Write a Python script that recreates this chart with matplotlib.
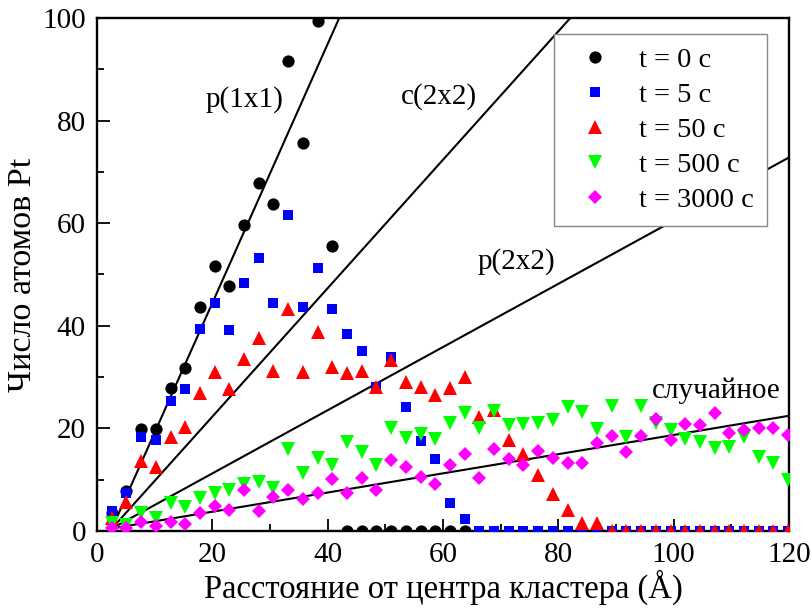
import numpy as np
import matplotlib
matplotlib.use("Agg")
import matplotlib.pyplot as plt

plt.rcParams['font.family'] = ['Liberation Serif', 'DejaVu Serif']
plt.rcParams['mathtext.fontset'] = 'stix'

# Distance from the cluster centre (Å), common grid for all series
distance = [2.55, 5.10, 7.65, 10.20, 12.75, 15.30, 17.85, 20.40, 22.95, 25.50,
            28.05, 30.60, 33.15, 35.70, 38.25, 40.80, 43.35, 45.90, 48.45, 51.00,
            53.55, 56.10, 58.65, 61.20, 63.75, 66.30, 68.85, 71.40, 73.95, 76.50,
            79.05, 81.60, 84.15, 86.70, 89.25, 91.80, 94.35, 96.90, 99.45, 102.00,
            104.55, 107.10, 109.65, 112.20, 114.75, 117.30, 119.85]

# Number of Pt atoms at each distance for several times
pt_t0 = [3.5, 7.8, 19.9, 19.9, 27.9, 31.8, 43.7, 51.7, 47.8, 59.7,
         67.9, 63.8, 91.7, 75.7, 99.5, 55.6, 0, 0, 0, 0,
         0, 0, 0, 0, 0]
pt_t5 = [3.9, 7.4, 18.3, 17.7, 25.4, 27.7, 39.3, 44.5, 39.2, 48.3,
         53.3, 44.5, 61.5, 43.7, 51.3, 43.3, 38.4, 35.1, 28.1, 34.0,
         24.1, 17.6, 14.0, 5.5, 2.3, 0, 0, 0, 0, 0,
         0, 0, 0, 0, 0, 0, 0, 0, 0, 0,
         0, 0, 0, 0, 0, 0, 0]
pt_t50 = [2.5, 5.7, 13.7, 12.5, 18.3, 20.3, 26.9, 31.0, 27.7, 33.6,
          37.7, 31.2, 43.3, 31.0, 38.8, 32.0, 30.8, 31.2, 28.1, 33.4,
          29.1, 28.1, 26.5, 27.9, 30.0, 22.2, 23.6, 17.8, 15.0, 10.9,
          7.2, 4.1, 1.6, 1.6, 0, 0, 0, 0, 0, 0,
          0, 0, 0, 0, 0, 0, 0]
pt_t500 = [1.6, 1.2, 3.5, 2.5, 5.5, 4.7, 6.4, 7.4, 8.0, 9.1,
           9.6, 8.4, 16.0, 11.3, 14.2, 12.9, 17.4, 15.4, 12.9, 20.1,
           18.1, 18.9, 17.9, 21.1, 23.0, 20.1, 23.3, 20.6, 20.8, 21.0,
           21.6, 24.2, 23.1, 19.9, 24.3, 18.3, 24.4, 21.0, 19.7, 18.0,
           17.3, 16.2, 16.4, 18.3, 14.4, 13.3, 10.0]
pt_t3000 = [0.6, 0.5, 1.8, 1.0, 1.8, 1.4, 3.6, 4.9, 4.1, 7.9,
            3.8, 6.6, 8.0, 6.3, 7.4, 10.1, 7.4, 10.3, 8.0, 13.8,
            12.5, 10.5, 9.2, 12.9, 15.0, 10.3, 15.9, 14.1, 12.8, 15.6,
            14.2, 13.3, 13.3, 17.2, 18.5, 15.4, 18.5, 21.8, 17.8, 20.9,
            20.7, 23.0, 19.1, 19.7, 20.1, 20.1, 18.7]

series_labels = ['t = 0 с', 't = 5 с', 't = 50 с', 't = 500 с', 't = 3000 с']

# Reference lines for ideal ordered / random arrangements
ref_names = ['p(1x1)', 'c(2x2)', 'p(2x2)', 'случайное']
ref_slopes = [2.525, 1.252, 0.616, 0.187]
ref_start = (2.6, 0.5)

fig = plt.figure(figsize=(8.11, 6.12), dpi=100)
ax = fig.add_axes([0.1196, 0.1324, 0.8533, 0.8382])

xs = np.array(distance)
x0, y0 = ref_start
for slope in ref_slopes:
    xl = np.array([x0, 125.0])
    ax.plot(xl, y0 + slope * (xl - x0), color='black', lw=1.5, zorder=2)

styles = [
    dict(marker='o', color='black', ms=8.8),
    dict(marker='s', color='#0000ff', ms=7.4),
    dict(marker='^', color='#ff0000', ms=9.8),
    dict(marker='v', color='#00ff00', ms=9.8),
    dict(marker='D', color='#ff00ff', ms=7.4),
]
data = [pt_t0, pt_t5, pt_t50, pt_t500, pt_t3000]
for vals, st, lab in zip(data, styles, series_labels):
    n = len(vals)
    ax.plot(xs[:n], vals, linestyle='none', marker=st['marker'], ms=st['ms'],
            color=st['color'], mec=st['color'], mew=0, label=lab, zorder=3)

ax.set_xlim(0, 120)
ax.set_ylim(0, 100)
ax.set_xticks(np.arange(0, 121, 20))
ax.set_xticks(np.arange(10, 120, 20), minor=True)
ax.set_yticks(np.arange(0, 101, 20))
ax.set_yticks(np.arange(10, 100, 20), minor=True)
ax.tick_params(which='both', direction='in', width=1.3, labelsize=21)
ax.tick_params(which='major', length=9, pad=8)
ax.tick_params(which='minor', length=5)
for sp in ax.spines.values():
    sp.set_linewidth(1.7)

ax.set_xlabel('Расстояние от центра кластера (Å)', fontsize=23.5, labelpad=1)
ax.set_ylabel('Число атомов Pt', fontsize=24.5, labelpad=3)

# Labels of the reference lines
ax.text(25.6, 84.1, ref_names[0], fontsize=21, ha='center', va='center')
ax.text(59.3, 84.7, ref_names[1], fontsize=21, ha='center', va='center')
ax.text(72.8, 52.5, ref_names[2], fontsize=21, ha='center', va='center')
ax.text(107.3, 27.3, ref_names[3], fontsize=21, ha='center', va='center')

leg = ax.legend(loc='upper left', bbox_to_anchor=(0.660, 0.969), fontsize=20.5,
                frameon=True, fancybox=False, edgecolor='#888888',
                framealpha=1, handlelength=2.0, handletextpad=0.55,
                labelspacing=0.32, borderpad=0.45, borderaxespad=0,
                markerscale=1.0)
leg.get_frame().set_linewidth(1.0)

fig.savefig('out.png', dpi=100)
